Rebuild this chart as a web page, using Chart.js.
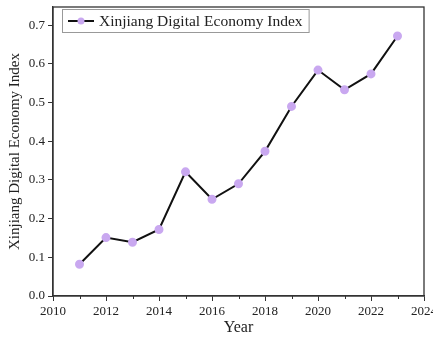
<!DOCTYPE html>
<html>
<head>
<meta charset="utf-8" />
<script src="https://cdn.jsdelivr.net/npm/chart.js@4.4.1/dist/chart.umd.min.js"></script>
<style>
  html, body { margin: 0; padding: 0; background: #fff; }
  #wrap { width: 433px; height: 344px; }
</style>
</head>
<body>
<div id="wrap"><canvas id="c" width="433" height="344"></canvas></div>
<script>
const years = [2011, 2012, 2013, 2014, 2015, 2016, 2017, 2018, 2019, 2020, 2021, 2022, 2023];
const indexValues = [0.082, 0.151, 0.139, 0.172, 0.321, 0.250, 0.290, 0.374, 0.490, 0.584, 0.533, 0.574, 0.672];
const seriesLabel = 'Xinjiang Digital Economy Index';
const FONT = "'Liberation Serif', 'Times New Roman', serif";
const AXIS = '#333';
const MARK = '#c9a8f0';

// frame, minor ticks and an inside legend box
const decor = {
  id: 'decor',
  afterDraw(chart) {
    const { ctx, chartArea: a } = chart;
    const x = chart.scales.x;
    ctx.save();
    ctx.strokeStyle = AXIS;
    ctx.lineWidth = 1.3;
    ctx.strokeRect(a.left, a.top, a.right - a.left, a.bottom - a.top);
    // minor ticks on odd years
    ctx.lineWidth = 1;
    for (let yr = 2011; yr < 2024; yr += 2) {
      const px = Math.round(x.getPixelForValue(yr)) + 0.5;
      ctx.beginPath();
      ctx.moveTo(px, a.bottom);
      ctx.lineTo(px, a.bottom + 3);
      ctx.stroke();
    }
    // legend
    const lx = a.left + 9, ly = a.top + 2, lh = 23;
    ctx.font = '15.5px ' + FONT;
    const tw = ctx.measureText(seriesLabel).width;
    const lw = 38 + tw + 5;
    ctx.fillStyle = '#fff';
    ctx.fillRect(lx, ly, lw, lh);
    ctx.strokeStyle = '#999';
    ctx.strokeRect(lx + 0.5, ly + 0.5, lw, lh);
    const cy = ly + lh / 2 + 0.5;
    ctx.strokeStyle = '#111';
    ctx.lineWidth = 2;
    ctx.beginPath();
    ctx.moveTo(lx + 6, cy);
    ctx.lineTo(lx + 32, cy);
    ctx.stroke();
    ctx.fillStyle = MARK;
    ctx.beginPath();
    ctx.arc(lx + 19, cy, 3.5, 0, Math.PI * 2);
    ctx.fill();
    ctx.fillStyle = '#222';
    ctx.textBaseline = 'middle';
    ctx.fillText(seriesLabel, lx + 37, cy + 1);
    ctx.restore();
  }
};

new Chart(document.getElementById('c'), {
  type: 'line',
  data: {
    datasets: [{
      label: seriesLabel,
      data: years.map((y, i) => ({ x: y, y: indexValues[i] })),
      borderColor: '#111',
      borderWidth: 2,
      pointBackgroundColor: MARK,
      pointBorderColor: MARK,
      pointRadius: 3.5,
      tension: 0
    }]
  },
  options: {
    responsive: false,
    animation: false,
    layout: { padding: { top: 7, right: 9, left: 0, bottom: 0 } },
    plugins: { legend: { display: false }, tooltip: { enabled: false } },
    scales: {
      x: {
        type: 'linear',
        min: 2010,
        max: 2024,
        afterFit: (s) => { s.height = 48; s.paddingLeft = 0; s.paddingRight = 0; },
        ticks: { stepSize: 2, color: '#222', font: { family: FONT, size: 13 }, padding: 3, callback: (v) => String(v) },
        grid: { drawOnChartArea: false, drawTicks: true, tickLength: 5, color: AXIS },
        border: { display: true, color: AXIS, width: 1.3 },
        title: { display: true, text: 'Year', color: '#222', font: { family: FONT, size: 16 }, padding: { top: 2, bottom: 7 } }
      },
      y: {
        min: 0,
        max: 0.747,
        afterFit: (s) => { s.width = 53; s.paddingTop = 0; s.paddingBottom = 0; },
        ticks: { stepSize: 0.1, color: '#222', font: { family: FONT, size: 13 }, padding: 3, callback: (v) => v.toFixed(1) },
        afterBuildTicks: (s) => { s.ticks = [0, 0.1, 0.2, 0.3, 0.4, 0.5, 0.6, 0.7].map(v => ({ value: v })); },
        grid: { drawOnChartArea: false, drawTicks: true, tickLength: 5, color: AXIS },
        border: { display: true, color: AXIS, width: 1.3 },
        title: { display: true, text: 'Xinjiang Digital Economy Index', color: '#222', font: { family: FONT, size: 15 }, padding: { top: 6, bottom: 2 } }
      }
    }
  },
  plugins: [decor]
});
</script>
</body>
</html>
